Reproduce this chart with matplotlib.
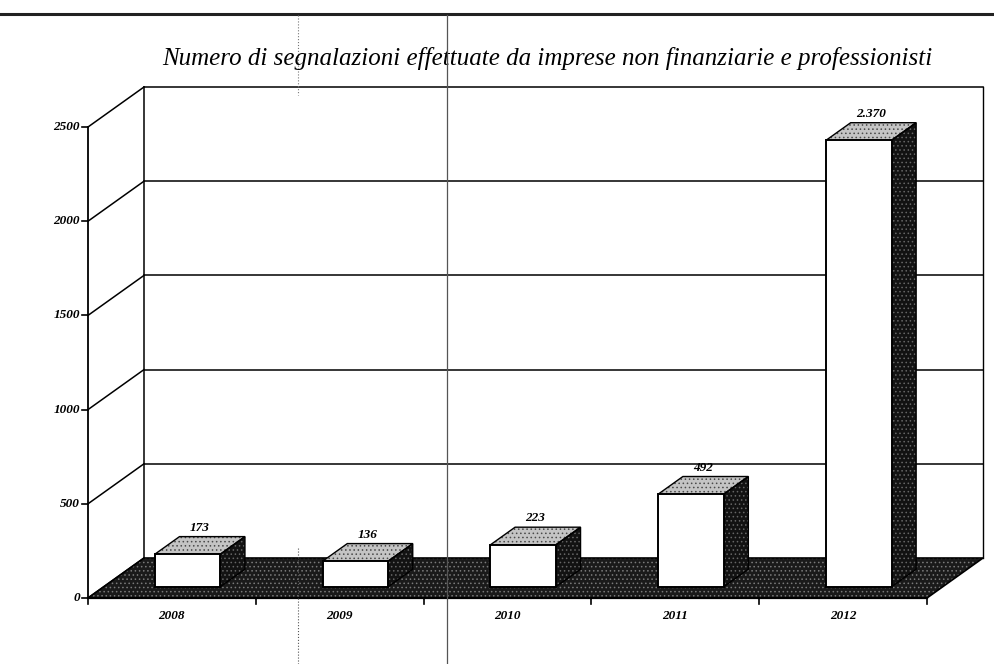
import matplotlib.pyplot as plt
from matplotlib.patches import Polygon
from matplotlib.lines import Line2D

# dati
years = ['2008', '2009', '2010', '2011', '2012']
values = [173, 136, 223, 492, 2370]
value_labels = ['173', '136', '223', '492', '2.370']
yticks = [0, 500, 1000, 1500, 2000, 2500]
title = 'Numero di segnalazioni effettuate da imprese non finanziarie e professionisti'

plt.rcParams['hatch.linewidth'] = 0.6
FONT = 'Liberation Serif'

fig = plt.figure(figsize=(9.95, 6.64), dpi=100)
ax = fig.add_axes([88 / 995, 66 / 664, 839 / 995, 471 / 664])
ax.set_xlim(0, len(years))
ax.set_ylim(0, yticks[-1])
ax.axis('off')

# profondita' 3D (obliqua) in unita' dati
px_x = ax.bbox.width / len(years)
px_y = ax.bbox.height / yticks[-1]
DX = 56 / px_x
DY = 40 / px_y


def face(pts, fc, hc, lw=1.0, z=2):
    ax.add_patch(Polygon(pts, closed=True, facecolor=fc, edgecolor=hc, hatch=hc and '....',
                         linewidth=0, zorder=z, clip_on=False))
    ax.add_patch(Polygon(pts, closed=True, fill=False, edgecolor='black',
                         linewidth=lw, zorder=z + 0.1, clip_on=False))


# parete di fondo
n = len(years)
for y in yticks[1:]:
    ax.plot([DX, n + DX], [y + DY, y + DY], color='black', lw=1.1, zorder=1, clip_on=False)
ax.plot([DX, DX], [DY, yticks[-1] + DY], color='black', lw=1.1, zorder=1, clip_on=False)
ax.plot([n + DX, n + DX], [DY, yticks[-1] + DY], color='black', lw=1.0, zorder=1, clip_on=False)

# diagonali laterali
for y in yticks:
    ax.plot([0, DX], [y, y + DY], color='black', lw=1.1, zorder=1, clip_on=False)

# pavimento
face([(0, 0), (n, 0), (n + DX, DY), (DX, DY)], '#1a1a1a', '#7a7a7a', lw=1.2, z=1.5)

# assi frontali
ax.plot([0, 0], [0, yticks[-1]], color='black', lw=1.3, zorder=3, clip_on=False)
ax.plot([0, n], [0, 0], color='black', lw=1.6, zorder=3, clip_on=False)
tx = 6 / px_x
ty = 6 / px_y
for y in yticks:
    ax.plot([-tx, 0], [y, y], color='black', lw=1.2, clip_on=False)
    ax.text(-tx - 2 / px_x, y, str(y), ha='right', va='center', fontsize=9.5,
            family=FONT, style='italic', weight='bold')
for i in range(n + 1):
    ax.plot([i, i], [0, -ty], color='black', lw=1.2, clip_on=False)

# barre
w = 0.39
d0, d1 = 0.28, 0.72
for i, (v, lab) in enumerate(zip(values, value_labels)):
    x0 = i + 0.5 - w / 2
    x1 = i + 0.5 + w / 2
    side = [(x1 + d0 * DX, d0 * DY), (x1 + d1 * DX, d1 * DY),
            (x1 + d1 * DX, v + d1 * DY), (x1 + d0 * DX, v + d0 * DY)]
    top = [(x0 + d0 * DX, v + d0 * DY), (x1 + d0 * DX, v + d0 * DY),
           (x1 + d1 * DX, v + d1 * DY), (x0 + d1 * DX, v + d1 * DY)]
    front = [(x0 + d0 * DX, d0 * DY), (x1 + d0 * DX, d0 * DY),
             (x1 + d0 * DX, v + d0 * DY), (x0 + d0 * DX, v + d0 * DY)]
    face(side, '#121212', '#666666', z=4)
    face(top, '#c4c4c4', '#4a4a4a', z=4)
    face(front, 'white', None, lw=1.4, z=4.5)
    ax.text(i + 0.5 + (d0 + d1) / 2 * DX, v + d1 * DY + 3 / px_y, lab,
            ha='center', va='bottom', fontsize=9.5, family=FONT, style='italic', weight='bold')
    ax.text(i + 0.5, -18 / px_y, years[i], ha='center', va='center', fontsize=9.5,
            family=FONT, style='italic', weight='bold')

# titolo
fig.text(547 / 995, 1 - 58 / 664, title, ha='center', va='center', fontsize=18,
         family=FONT, style='italic')

# righe della pagina scansionata
fig.add_artist(Line2D([0, 1], [1 - 14 / 664] * 2, color='#222222', lw=2.2))
fig.add_artist(Line2D([447 / 995] * 2, [0, 1 - 15 / 664], color='#555555', lw=0.9, zorder=6))
fig.add_artist(Line2D([298 / 995] * 2, [1 - 15 / 664, 1 - 95 / 664], color='#777777',
                      lw=0.8, ls=':'))
fig.add_artist(Line2D([298 / 995] * 2, [0, 1 - 547 / 664], color='#555555', lw=0.8, ls=':', zorder=6))

fig.savefig('out.png', dpi=100)
